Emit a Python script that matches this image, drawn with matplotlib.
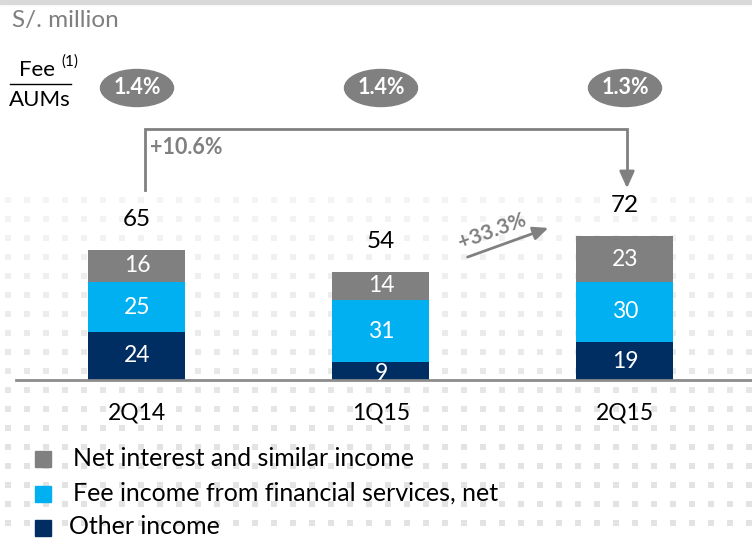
import matplotlib
matplotlib.use("Agg")
import matplotlib.pyplot as plt
from matplotlib.patches import Ellipse, Rectangle
import numpy as np

plt.rcParams['font.family'] = ['Lato', 'DejaVu Sans']

categories = ["2Q14", "1Q15", "2Q15"]
other_income = [24, 9, 19]
fee_income = [25, 31, 30]
net_interest = [16, 14, 23]
totals = [65, 54, 72]
fee_aums = ["1.4%", "1.4%", "1.3%"]
growth_yoy = "+10.6%"
growth_qoq = "+33.3%"
series_names = ["Net interest and similar income",
                "Fee income from financial services, net",
                "Other income"]

c_gray = "#808080"
c_cyan = "#00B0F0"
c_navy = "#002D62"

W, H = 752, 541
fig = plt.figure(figsize=(W / 100, H / 100), dpi=100)
ax = fig.add_axes([0, 0, 1, 1])
# pixel-based mapping: bar centres 244 px apart, 2 px per unit
px0, pxs, py0, pys = 137, 244, 380, 2.0
ax.set_xlim((0 - px0) / pxs, (W - px0) / pxs)
ax.set_ylim((py0 - H) / pys, py0 / pys)
ax.axis("off")

def X(px):
    return (px - px0) / pxs

def Y(py):
    return (py0 - py) / pys

# subtle background dot pattern (decoration)
for gy in np.arange(200, H, 19):
    a = min(1.0, (gy - 190) / 250)
    xs = np.arange(8, W, 19)
    ax.scatter([X(v) for v in xs], [Y(gy)] * len(xs), marker="s", s=16,
               color="#e0e0e0", alpha=0.3 + 0.6 * a, linewidths=0, zorder=0)

# top strip
ax.add_patch(Rectangle((X(0), Y(4)), X(W) - X(0), Y(0) - Y(4), color="#d9d9d9", zorder=1))

x = np.arange(len(categories))
bw = 97 / pxs
ax.bar(x, other_income, width=bw, color=c_navy, zorder=3)
ax.bar(x, fee_income, width=bw, bottom=other_income, color=c_cyan, zorder=3)
bot2 = [a + b for a, b in zip(other_income, fee_income)]
ax.bar(x, net_interest, width=bw, bottom=bot2, color=c_gray, zorder=3)

# baseline
ax.plot([X(16), X(W)], [0, 0], color="#8c8c8c", lw=2, zorder=4)

for i in range(len(categories)):
    vals = [other_income[i], fee_income[i], net_interest[i]]
    b = 0
    for v in vals:
        ycen = b + v / 2
        if v < 12:
            ycen = b + v / 2 - 1.5
        ax.text(x[i], ycen, str(v), ha="center", va="center", color="white",
                fontsize=16.5, zorder=5)
        b += v
    ax.text(x[i], totals[i] + 15, str(totals[i]), ha="center", va="center",
            color="black", fontsize=17.5, zorder=5)
    ax.text(x[i], Y(413), categories[i], ha="center", va="center",
            color="black", fontsize=16.5, zorder=5)
    # fee/AUM ellipses
    ax.add_patch(Ellipse((x[i], Y(88)), 73 / pxs, 37 / pys, color=c_gray, zorder=5))
    ax.text(x[i], Y(88), fee_aums[i], ha="center", va="center", color="white",
            fontsize=15.5, fontweight="bold", zorder=6)

# bracket arrow +10.6%
ax.plot([X(145), X(145), X(627), X(627)], [Y(190), Y(129), Y(129), Y(172)],
        color=c_gray, lw=2, zorder=4, solid_joinstyle="miter")
ax.annotate("", xy=(X(627), Y(191)), xytext=(X(627), Y(170)),
            arrowprops=dict(arrowstyle="-|>,head_width=0.45,head_length=1.0",
                            color=c_gray, lw=2), zorder=4)
ax.text(X(150), Y(148), growth_yoy, ha="left", va="center", color=c_gray,
        fontsize=15.5, fontweight="bold", zorder=5)

# +33.3% arrow
ax.annotate("", xy=(X(551), Y(227)), xytext=(X(465), Y(258)),
            arrowprops=dict(arrowstyle="-|>,head_width=0.4,head_length=0.9",
                            color=c_gray, lw=2), zorder=4)
ax.text(X(492), Y(231), growth_qoq, ha="center", va="center", color=c_gray,
        fontsize=15, fontweight="bold", rotation=20, zorder=5)

# units title
ax.text(X(12), Y(20), "S/. million", ha="left", va="center", color="#7f7f7f",
        fontsize=17.5, zorder=5)

# Fee / AUMs fraction
ax.text(X(37), Y(70), "Fee", ha="center", va="center", color="black", fontsize=16, zorder=5)
ax.text(X(70), Y(62), "(1)", ha="center", va="center", color="black", fontsize=11, zorder=5)
ax.plot([X(10), X(71)], [Y(84), Y(84)], color="black", lw=1, zorder=5)
ax.text(X(40), Y(100), "AUMs", ha="center", va="center", color="black", fontsize=16, zorder=5)

# legend
leg_colors = [c_gray, c_cyan, c_navy]
leg_y = [459, 494, 528]
leg_tx = [73, 73, 69]
for nm, c, ly, tx in zip(series_names, leg_colors, leg_y, leg_tx):
    ax.add_patch(Rectangle((X(35), Y(ly + 8)), 16 / pxs, 16 / pys, color=c, zorder=5))
    ax.text(X(tx), Y(ly - 1), nm, ha="left", va="center", color="black",
            fontsize=18, zorder=5)

fig.savefig("out.png", dpi=100)
